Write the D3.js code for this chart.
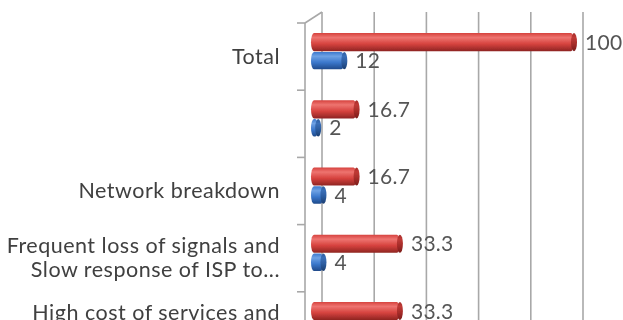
<!DOCTYPE html>
<html>
<head>
<meta charset="utf-8">
<script src="https://cdn.jsdelivr.net/npm/d3@7"></script>
<style>
  html, body { margin: 0; padding: 0; background: #fff; }
  svg { display: block; }
  text { font-family: "Lato", "Open Sans", sans-serif; }
</style>
</head>
<body>
<svg id="chart" width="623" height="320"></svg>
<script>
// Category labels (each entry is a list of wrapped lines), top to bottom
const categoryLines = [
  ["Total"],
  [""],
  ["Network breakdown"],
  ["Frequent loss of signals and", "Slow response of ISP to..."],
  ["High cost of services and", "…"]
];
// Percentage series (red cylinders)
const percentValues = [100, 16.7, 16.7, 33.3, 33.3];
// Count series (blue cylinders)
const countValues = [12, 2, 4, 4, null];
// Value-axis gridline ticks
const gridTicks = [0, 20, 40, 60, 80, 100];

const W = 623, H = 320;
const svg = d3.select("#chart");

// back wall scale (gridlines) and front scale (bars sit in front, shifted left by depth)
const depthX = 9, depthY = 11;
const xBack = d3.scaleLinear().domain([0, 100]).range([322, 583]);
const xFront = v => xBack(v) - depthX;

const idx = d3.range(categoryLines.length);
const y = d3.scaleBand().domain(idx).range([23, 23 + 67.2 * idx.length]).padding(0);
const bw = y.bandwidth();

const defs = svg.append("defs");
function cylGradient(id, light, mid, dark) {
  const g = defs.append("linearGradient").attr("id", id)
    .attr("x1", 0).attr("y1", 0).attr("x2", 0).attr("y2", 1);
  g.append("stop").attr("offset", "0%").attr("stop-color", mid);
  g.append("stop").attr("offset", "25%").attr("stop-color", light);
  g.append("stop").attr("offset", "60%").attr("stop-color", mid);
  g.append("stop").attr("offset", "100%").attr("stop-color", dark);
}
cylGradient("gRed", "#ee7470", "#d6423e", "#8e2422");
cylGradient("gBlue", "#6fa2e4", "#3b78cc", "#1f4a8a");
cylGradient("gRedCap", "#c03a36", "#a52c29", "#7a1c1a");
cylGradient("gBlueCap", "#3a6fb8", "#2c5c9f", "#1a3d70");

const soft = defs.append("filter").attr("id", "soft");
soft.append("feGaussianBlur").attr("stdDeviation", 0.5);

const root = svg.append("g").attr("filter", "url(#soft)");

// gridlines on the back wall
const gridColor = "#a8a8a8";
root.append("g").selectAll("line").data(gridTicks).join("line")
  .attr("x1", d => xBack(d)).attr("x2", d => xBack(d))
  .attr("y1", 12).attr("y2", H + 20)
  .attr("stroke", gridColor).attr("stroke-width", 1.6);

// category axis line with depth edge and ticks at band boundaries
const axisX = xBack(0) - 17;
const axisG = root.append("g").attr("stroke", gridColor).attr("stroke-width", 1.6).attr("fill", "none");
axisG.append("line").attr("x1", axisX).attr("x2", axisX).attr("y1", y(0)).attr("y2", H + 20);
axisG.append("line").attr("x1", axisX).attr("y1", y(0)).attr("x2", xBack(0)).attr("y2", y(0) - depthY);
const boundaries = idx.map(i => y(i));
axisG.selectAll("line.tick").data(boundaries).join("line").attr("class", "tick")
  .attr("x1", axisX - 8).attr("x2", axisX).attr("y1", d => d).attr("y2", d => d);

// cylinder drawing
function cylinders(values, yOff, h, fill, capFill) {
  const data = idx.map(i => ({ i, v: values[i] })).filter(d => d.v != null);
  const g = root.append("g");
  const x0 = xFront(0) - 2;
  g.selectAll("rect").data(data).join("rect")
    .attr("x", x0)
    .attr("y", d => y(d.i) + yOff)
    .attr("width", d => Math.max(4, xFront(d.v) - x0))
    .attr("height", h)
    .attr("rx", 3).attr("ry", h / 2)
    .attr("fill", fill);
  g.selectAll("ellipse").data(data).join("ellipse")
    .attr("cx", d => Math.max(x0 + 4, xFront(d.v)))
    .attr("cy", d => y(d.i) + yOff + h / 2)
    .attr("rx", 3).attr("ry", h / 2)
    .attr("fill", capFill);
  return data;
}

const redOff = bw * 0.15, redH = bw * 0.27;
const blueOff = bw * 0.43, blueH = bw * 0.26;
const redData = cylinders(percentValues, redOff, redH, "url(#gRed)", "url(#gRedCap)");
const blueData = cylinders(countValues, blueOff, blueH, "url(#gBlue)", "url(#gBlueCap)");

// value labels
const fmt = v => String(v);
function valueLabels(data, yOff, h) {
  root.append("g").selectAll("text").data(data).join("text")
    .attr("x", d => xFront(d.v) + 11)
    .attr("y", d => y(d.i) + yOff + h / 2)
    .attr("dy", "0.36em")
    .attr("font-size", 21)
    .attr("letter-spacing", 0.3)
    .attr("fill", "#555555")
    .text(d => fmt(d.v));
}
valueLabels(redData, redOff, redH);
valueLabels(blueData, blueOff, blueH);

// category labels
const lineGap = 24;
const labelG = root.append("g").attr("text-anchor", "end").attr("font-size", 21.5)
  .attr("letter-spacing", 0.5).attr("fill", "#404040");
idx.forEach(i => {
  const lines = categoryLines[i];
  const cy = y(i) + bw / 2;
  const t = labelG.append("text").attr("x", axisX - 25);
  lines.forEach((ln, k) => {
    t.append("tspan")
      .attr("x", axisX - 25)
      .attr("y", cy + (k - (lines.length - 1) / 2) * lineGap)
      .attr("dy", "0.33em")
      .text(ln);
  });
});
</script>
</body>
</html>
